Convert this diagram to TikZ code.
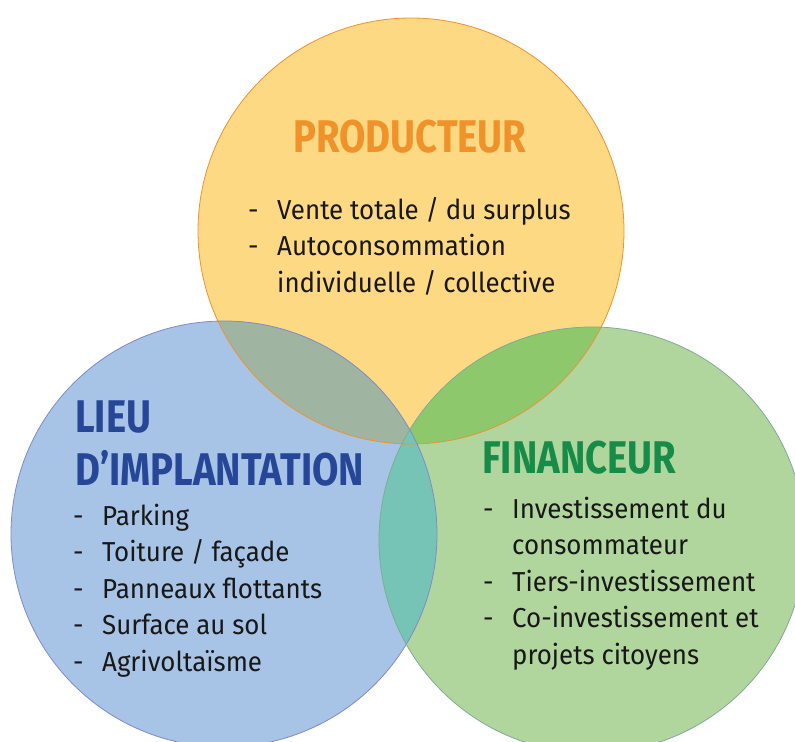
\documentclass[tikz,border=0pt]{standalone}
\usepackage{fontspec}
\setmainfont[FakeStretch=0.945]{Fira Sans}
\newfontfamily\titlefont[FakeStretch=0.835]{Fira Sans}
\usepackage{tikz}
\usetikzlibrary{positioning}
\definecolor{prodclr}{RGB}{252,217,130}
\definecolor{prodline}{RGB}{240,146,46}
\definecolor{prodtxt}{RGB}{240,145,42}
\definecolor{lieuclr}{RGB}{167,195,229}
\definecolor{lieuline}{RGB}{128,138,204}
\definecolor{lieutxt}{RGB}{38,70,152}
\definecolor{finclr}{RGB}{176,214,158}
\definecolor{finline}{RGB}{128,172,150}
\definecolor{fintxt}{RGB}{22,140,72}
\definecolor{plclr}{RGB}{159,181,162}
\definecolor{pfclr}{RGB}{141,200,108}
\definecolor{lfclr}{RGB}{117,196,182}
\definecolor{bodyclr}{RGB}{24,24,24}
\tikzset{ %
  ,every node/.style={inner sep=0, text=bodyclr}
  ,title/.style={font=\fontsize{46}{46}\titlefont\bfseries, anchor=base west}
  ,items/.style={font=\fontsize{27.5}{36.8}\selectfont, anchor=base west}
  ,rim/.style={line width=0.8bp}
}
\newcommand{\itemlist}[1]{\begin{tabular}[t]{@{}p{29bp}@{}l@{}}#1\end{tabular}}
\def\rad{213}

\begin{document}
\begin{tikzpicture}[x=1bp, y=-1bp]
  \useasboundingbox (0,0) rectangle (795,742);
  \clip (0,0) rectangle (795,742);
  \coordinate (prod) at (411,231);
  \coordinate (lieu) at (224,534);
  \coordinate (fin) at (592,540);
  % the three sets
  \fill[prodclr] (prod) circle[radius=\rad];
  \fill[lieuclr] (lieu) circle[radius=\rad];
  \fill[finclr] (fin) circle[radius=\rad];
  % overlaps
  \begin{scope}
    \clip (prod) circle[radius=\rad];
    \fill[plclr] (lieu) circle[radius=\rad];
    \fill[pfclr] (fin) circle[radius=\rad];
  \end{scope}
  \begin{scope}
    \clip (lieu) circle[radius=\rad];
    \fill[lfclr] (fin) circle[radius=\rad];
  \end{scope}
  \draw[rim, prodline] (prod) circle[radius=\rad];
  \draw[rim, lieuline] (lieu) circle[radius=\rad];
  \draw[rim, finline] (fin) circle[radius=\rad];
  % titles
  \draw
  node[title, text=prodtxt] (prodtitle) at (293,152) {PRODUCTEUR}
  node[title, text=lieutxt] (lieutitle) at (75,432) {LIEU}
  node[title, text=lieutxt, below=53bp of lieutitle.base west, anchor=base west] (lieutitle2) {D’IMPLANTATION}
  node[title, text=fintxt] (fintitle) at (482,473) {FINANCEUR};
  % item lists
  \draw
  node[items] (prodlist) at (248,219) {\itemlist{%
    - & Vente totale / du surplus \\
    - & Autoconsommation \\
      & individuelle / collective}}
  node[items] (lieulist) at (73,525) {\itemlist{%
    - & Parking \\
    - & Toiture / façade \\
    - & Panneaux flottants \\
    - & Surface au sol \\
    - & Agrivoltaïsme}}
  node[items] (finlist) at (483,518) {\itemlist{%
    - & Investissement du \\
      & consommateur \\
    - & Tiers-investissement \\
    - & Co-investissement et \\
      & projets citoyens}};
\end{tikzpicture}
\end{document}
